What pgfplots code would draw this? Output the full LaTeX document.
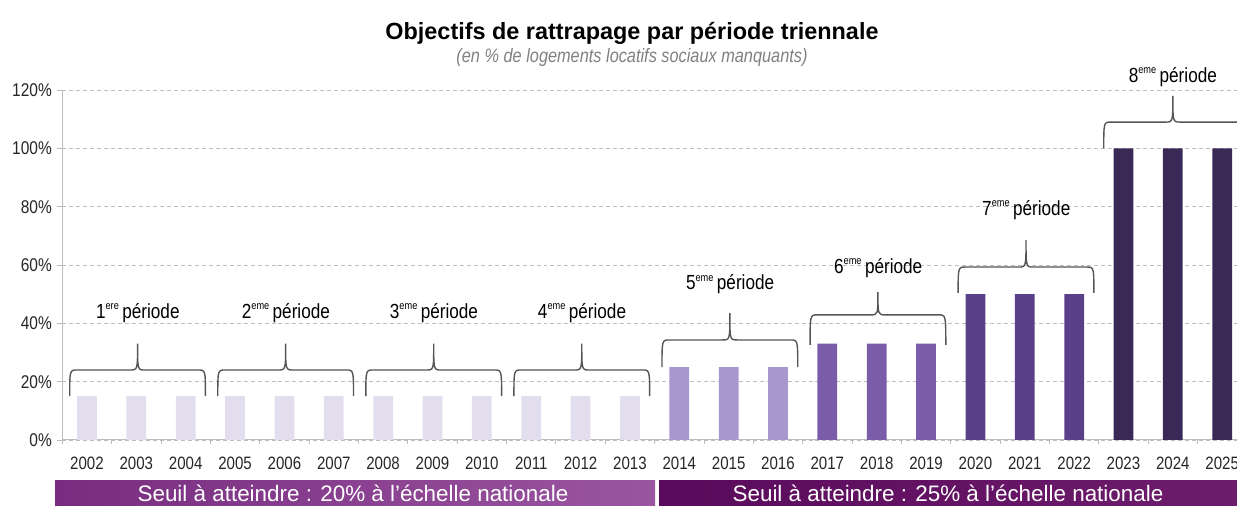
\documentclass[border=0pt]{standalone}
\usepackage{pgfplots}
\pgfplotsset{compat=1.18}
\usepackage{fontspec}
\setmainfont{Liberation Sans}
\newfontfamily\narrowfont[FakeStretch=0.84]{Liberation Sans}
\definecolor{paleP}{HTML}{E2DEEE}
\definecolor{p5}{HTML}{A797CC}
\definecolor{p6}{HTML}{7A5CAA}
\definecolor{p7}{HTML}{5A4088}
\definecolor{p8}{HTML}{3A2856}
\definecolor{gridgray}{HTML}{BDBDBD}
\definecolor{bracegray}{HTML}{555555}
\definecolor{banA}{HTML}{782C7F}
\definecolor{banB}{HTML}{9A55A1}
\definecolor{banC}{HTML}{5A0A5C}
\definecolor{banD}{HTML}{6E1C6C}

% brace over a group: x from, x to, y ends, y flat, y tip
\newcommand{\grpbrace}[5]{%
  \draw[bracegray, line width=1.4pt]
    (#1,#3) .. controls (#1,#4) .. ({#1+0.15},#4)
    -- ({(#1+#2)/2-0.15},#4) .. controls ({(#1+#2)/2},#4) .. ({(#1+#2)/2},#5)
    .. controls ({(#1+#2)/2},#4) .. ({(#1+#2)/2+0.15},#4)
    -- ({#2-0.15},#4) .. controls (#2,#4) .. (#2,#3);}
\newcommand{\per}[2]{#1\raisebox{0.42em}{\fontsize{11}{11}\selectfont #2}\,période}

\pgfplotstableread{
x y
0 15
1 15
2 15
3 15
4 15
5 15
6 15
7 15
8 15
9 15
10 15
11 15
}\pale
\pgfplotstableread{
x y
12 25
13 25
14 25
}\five
\pgfplotstableread{
x y
15 33
16 33
17 33
}\six
\pgfplotstableread{
x y
18 50
19 50
20 50
}\seven
\pgfplotstableread{
x y
21 100
22 100
23 100
}\eight

\begin{document}
\begin{tikzpicture}[x=1bp,y=1bp]
\path[use as bounding box] (0,0) rectangle (1237,506);

\begin{axis}[
    at={(62.3bp,66bp)}, anchor=south west,
    scale only axis,
    width=1174.7bp, height=350bp,
    xmin=-0.5, xmax=23.3,
    ymin=0, ymax=120,
    clip=false,
    axis x line*=bottom, axis y line*=left,
    axis line style={gridgray, line width=1pt},
    xtick={0,...,23},
    xticklabels={2002,2003,2004,2005,2006,2007,2008,2009,2010,2011,2012,2013,
                 2014,2015,2016,2017,2018,2019,2020,2021,2022,2023,2024,2025},
    minor xtick={-0.5,0.5,...,22.5},
    major x tick style={draw=none},
    minor x tick style={gridgray, line width=0.8pt},
    tick align=outside,
    minor tick length=4bp,
    major tick length=5bp,
    ytick={0,20,...,120},
    yticklabels={0\%,20\%,40\%,60\%,80\%,100\%,120\%},
    y tick style={gridgray, line width=0.8pt},
    ymajorgrids,
    grid style={gridgray, dashed, dash pattern=on 4pt off 3pt, line width=0.8pt},
    xticklabel style={font=\narrowfont\fontsize{18}{20}\selectfont, text=black!85, yshift=-8bp},
    yticklabel style={font=\narrowfont\fontsize{18.5}{20}\selectfont, text=black!85, xshift=-2bp},
    ybar, bar width=0.4,
]
\addplot[fill=paleP, draw=none, bar shift=0pt] table[x=x,y=y] {\pale};
\addplot[fill=p5, draw=none, bar shift=0pt] table[x=x,y=y] {\five};
\addplot[fill=p6, draw=none, bar shift=0pt] table[x=x,y=y] {\six};
\addplot[fill=p7, draw=none, bar shift=0pt] table[x=x,y=y] {\seven};
\addplot[fill=p8, draw=none, bar shift=0pt] table[x=x,y=y] {\eight};

\grpbrace{-0.35}{2.4}{15}{24}{33}
\grpbrace{2.65}{5.4}{15}{24}{33}
\grpbrace{5.65}{8.4}{15}{24}{33}
\grpbrace{8.65}{11.4}{15}{24}{33}
\grpbrace{11.65}{14.4}{25}{34.3}{43.5}
\grpbrace{14.65}{17.4}{32.6}{42.9}{50.7}
\grpbrace{17.65}{20.4}{50.4}{59.3}{68.6}
\grpbrace{20.6}{23.4}{100}{109}{118}

\begin{scope}[every node/.style={font=\narrowfont\fontsize{20.5}{22}\selectfont, text=black}]
\node at (axis cs:1.03,43.5) {\per{1}{ere}};
\node at (axis cs:4.03,43.5) {\per{2}{eme}};
\node at (axis cs:7.03,43.5) {\per{3}{eme}};
\node at (axis cs:10.03,43.5) {\per{4}{eme}};
\node at (axis cs:13.03,53.4) {\per{5}{eme}};
\node at (axis cs:16.03,59) {\per{6}{eme}};
\node at (axis cs:19.03,78.9) {\per{7}{eme}};
\node at (axis cs:22.0,124.5) {\per{8}{eme}};
\end{scope}
\end{axis}

\node[font=\bfseries\fontsize{23.5}{25}\selectfont] at (632,473) {Objectifs de rattrapage par période triennale};
\node[font=\narrowfont\itshape\fontsize{19.5}{21}\selectfont, text=black!50] at (632,449) {(en \% de logements locatifs sociaux manquants)};

\shade[left color=banA, right color=banB] (55,-2) rectangle (655,25);
\shade[left color=banC, right color=banD] (659,-2) rectangle (1240,25);
\node[text=white, font=\fontsize{22.5}{24}\selectfont, inner sep=0pt] at (353,13) {Seuil à atteindre : 20\% à l'échelle nationale};
\node[text=white, font=\fontsize{22.5}{24}\selectfont, inner sep=0pt] at (948,13) {Seuil à atteindre : 25\% à l’échelle nationale};
\end{tikzpicture}
\end{document}
